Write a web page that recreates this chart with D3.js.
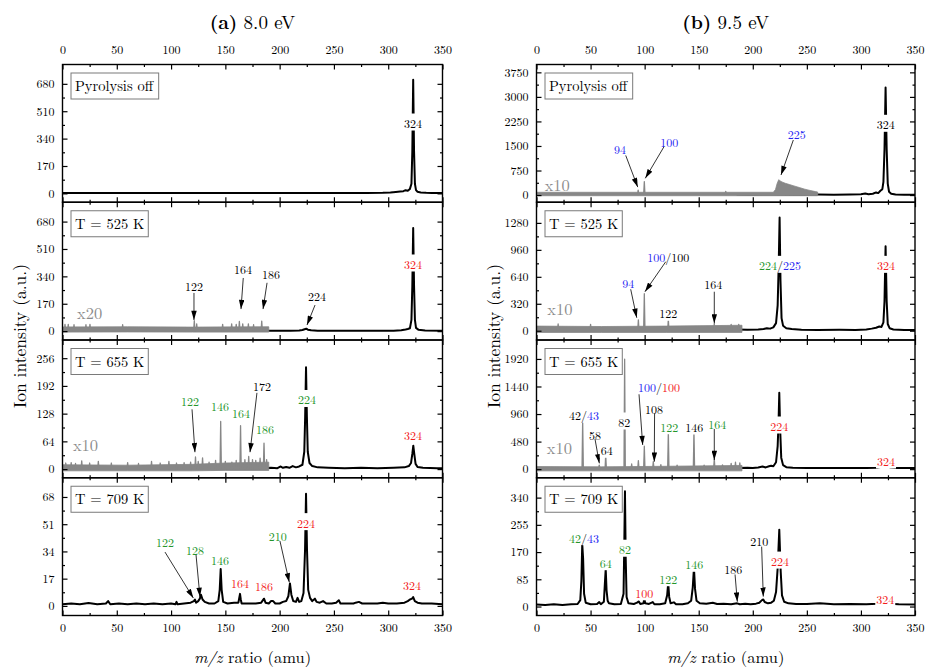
<!DOCTYPE html>
<html><head><meta charset="utf-8">
<script src="https://cdn.jsdelivr.net/npm/d3@7"></script>
<style>
body{margin:0;background:#fff}
svg{display:block}
text{font-family:"Latin Modern Roman","Liberation Serif",serif}
</style>
</head><body><svg id="c" width="928" height="668"></svg>
<script>
// ---------------- DATA ----------------
const columnTitles = [["(a)", " 8.0 eV"], ["(b)", " 9.5 eV"]];
const panelNames = ["Pyrolysis off", "T = 525 K", "T = 655 K", "T = 709 K"];
const mzTicks = [0, 50, 100, 150, 200, 250, 300, 350];
const yTicksA = [[0,170,340,510,680],[0,170,340,510,680],[0,64,128,192,256],[0,17,34,51,68]];
const yTicksB = [[0,750,1500,2250,3000,3750],[0,320,640,960,1280],[0,480,960,1440,1920],[0,85,170,255,340]];
const yDomA = [[-55,800],[-55,800],[-20,298],[-6,80]];
const yDomB = [[-220,3990],[-110,1525],[-150,2250],[-28,402]];

// black spectra [m/z, intensity]
const blackA = [
 [[0,3],[20,2],[40,3],[60,2],[80,3],[100,2],[120,3],[140,2],[160,3],[180,2],[200,3],[220,2],[240,3],[260,2],[280,3],[295,4],[302,6],[307,9],[311,12],[314,14],[316,20],[318,16],[320,28],[321.4,60],[322.2,260],[323,705],[323.8,260],[324.6,60],[325.6,20],[327,10],[330,6],[335,4],[340,3],[350,2]],
 [[185,2],[200,3],[210,2],[218,4],[221,7],[223,12],[224.5,15],[226,9],[229,5],[235,3],[250,2],[270,3],[290,2],[305,3],[312,6],[316,10],[318,13],[320,18],[321.4,70],[322.2,280],[323,640],[323.8,280],[324.6,70],[325.6,20],[328,8],[334,4],[350,2]],
 [[185,2],[192,3],[198,2],[201,6],[203,3],[206,5],[209,3],[212,7],[215,4],[218,6],[221,10],[222.7,40],[223.5,120],[224.3,235],[225.1,120],[225.9,40],[227.5,14],[230,7],[235,4],[245,3],[260,2],[275,3],[290,2],[305,3],[315,4],[319,7],[321,14],[322.2,35],[323.1,54],[324,35],[325.2,12],[327,5],[332,3],[345,2],[350,2]],
 [[0,1],[8,1.5],[16,1],[24,1.8],[32,1],[40,1.5],[42,3],[44,1],[52,1.5],[60,1],[68,1.5],[76,1],[84,1.5],[92,1],[100,1.5],[104,1],[105,2.5],[106,1],[112,1.5],[118,2],[121,3],[122,4],[123,2],[125,3],[126.5,4.5],[127.5,7],[129,4],[131,2.5],[135,1.5],[140,1.5],[143.5,3],[144.8,10],[145.7,23],[146.6,10],[148,2.5],[152,1.5],[158,2],[162,2],[162.8,5],[163.5,7.5],[164.2,4],[165,1.5],[172,1.5],[178,1.5],[183,2],[185.6,4.5],[187,2],[190,1.5],[192,3],[194,3],[196,1.5],[200,1.5],[203,2.5],[206,3],[208,6],[209.5,14],[210.8,7],[212.5,3],[215,2.5],[216.5,5],[218,2.5],[220,3],[222,8],[223.4,35],[224.3,70],[225.2,35],[226.3,10],[228,5],[230,3],[232.5,4.5],[234,2.5],[237,2],[240,3],[243,1.5],[248,1.5],[252,2],[254.5,3.5],[256,1.5],[262,1.5],[268,1.5],[270,2],[273,2.5],[276,1.5],[282,1.5],[290,1.5],[295,2],[300,1.5],[308,1.5],[315,2],[318,3],[320,4],[322,4.5],[323,5.5],[324.5,3],[327,2],[331,1.5],[340,1.5],[350,1]]
];
const blackB = [
 [[185,15],[200,12],[220,15],[240,12],[260,15],[275,12],[290,18],[300,25],[304,45],[307,25],[311,40],[314,80],[316,60],[318,130],[319.8,180],[320.8,400],[321.8,1400],[322.8,3290],[323.8,1400],[324.8,350],[326,100],[328,40],[332,20],[340,12],[350,10]],
 [[185,15],[195,12],[205,15],[210,20],[213,30],[216,25],[219,40],[221.5,90],[223,300],[224,800],[224.8,1343],[225.6,600],[226.6,150],[228,60],[231,30],[236,20],[245,12],[260,10],[280,12],[295,10],[305,15],[310,25],[314,35],[317,50],[319,45],[320.8,100],[321.8,350],[322.8,1004],[323.8,350],[324.8,80],[326.5,30],[330,15],[340,10],[350,10]],
 [[185,20],[195,25],[200,20],[205,30],[209,45],[212,30],[215,50],[217,60],[219,50],[221.5,120],[223,400],[223.8,800],[224.5,1332],[225.3,700],[226.3,200],[228,70],[231,35],[237,25],[250,20],[270,20],[290,22],[305,20],[315,25],[319,40],[321,70],[322.8,110],[324.5,60],[327,30],[333,20],[350,20]],
 [[0,6],[8,5],[16,7],[24,5],[32,7],[38,8],[40.5,20],[41.5,80],[42.3,195],[43.1,150],[44,40],[45.5,12],[50,7],[56,8],[58,14],[59.5,7],[62.3,15],[63.2,70],[64,117],[64.8,50],[65.8,18],[67,10],[72,7],[78,8],[80.5,40],[81.2,200],[81.8,360],[82.5,150],[83.3,30],[85,10],[90,8],[93,12],[94.5,16],[96,8],[99,10],[99.7,28],[100.5,10],[104,8],[107.5,14],[109,7],[114,7],[119,10],[120.8,35],[121.8,74],[122.7,30],[124,10],[127,13],[129,7],[135,7],[140,10],[143,18],[144.5,60],[145.6,121],[146.6,55],[148,18],[151,10],[157,9],[163,12],[167,8],[173,9],[180,7],[185.5,10],[188,7],[193,9],[198,7],[203,9],[206,12],[208.5,20],[209.7,22],[211,14],[214,10],[217,12],[219.5,18],[221.5,45],[223,120],[224.5,240],[225.8,110],[227,35],[229,15],[233,10],[240,8],[250,8],[262,10],[275,7],[290,8],[305,7],[315,9],[320,12],[323,15],[326,9],[335,7],[350,6]]
];

// magnified (grey) traces: noise band [m/z, low, high] and spikes [m/z, height]
const grayBandA = [
 null,
 [[0,-6,26],[60,-5,27],[120,-6,25],[190,-6,27]],
 [[0,-4,10],[60,-4,9],[120,-4,11],[150,-3,14],[190,-3,16]],
 null
];
const graySpikesA = [
 null,
 [[2.3,42],[5.3,42],[10.6,40],[21.6,40],[25.3,42],[55.4,40],[121.4,65],[123.6,45],[147.5,42],[155.8,45],[160,42],[162.9,60],[166,45],[171.2,45],[176,40],[183.5,62]],
 [[3,14],[8,15],[12,13],[17.7,19],[25,14],[33,18],[45,14],[60,15],[70,13],[82,18],[90,14],[98,18],[105,14],[112,15],[118,16],[122.5,28],[125,18],[129,26],[135,16],[141,20],[145.7,110],[150,18],[156,16],[160,20],[164,100],[168,22],[171.5,29],[175,22],[178,20],[182,25],[185.6,60],[188,22]],
 null
];
const grayBandB = [
 [[0,-20,85],[219,-20,85],[221,-20,170],[222.5,-20,350],[224,-20,470],[225,-20,440],[227,-20,400],[230,-20,360],[234,-20,320],[238,-20,280],[243,-20,230],[248,-20,180],[253,-20,140],[258,-20,105],[260,-20,90]],
 [[0,-20,55],[60,-20,50],[120,-20,55],[190,-20,65]],
 [[0,-30,45],[60,-30,40],[120,-30,50],[190,-30,65]],
 null
];
const graySpikesB = [
 [[94,150],[99.7,410],[175,110]],
 [[20,80],[50,75],[94.2,130],[99.7,440],[121.9,135],[164.4,85],[180,75],[187,75]],
 [[42.7,843],[58,70],[64,244],[81.5,1915],[88,90],[94.2,150],[99.7,400],[108,130],[115,80],[121.9,650],[130,70],[145.6,640],[155,70],[164.4,180],[172,75],[180,100],[184,120],[188,110]],
 null
];
const grayFactorA = [null, "x20", "x10", null];
const grayFactorB = ["x10", "x10", "x10", null];
const factorAtA = [null, [24.9,120], [21.2,57], null];
const factorAtB = [[19.2,338], [21.7,273], [21.1,391], null];

// peak labels: text parts [text, colour key], anchor [m/z, intensity], optional arrow
const labelsA = [
 [ {t:[["324","k"]],at:[322.8,443]} ],
 [ {t:[["122","k"]],at:[121.1,286],arrow:[[121.1,237],[121.1,69]]},
   {t:[["164","k"]],at:[166.3,394],arrow:[[166.5,330],[164.4,137]]},
   {t:[["186","k"]],at:[192,363],arrow:[[188.4,300],[184.7,137]]},
   {t:[["224","k"]],at:[234.4,224],arrow:[[232.6,162],[225.2,38]]},
   {t:[["324","r"]],at:[322.8,423]} ],
 [ {t:[["122","g"]],at:[117.4,159],arrow:[[119.3,138],[122,39]]},
   {t:[["146","g"]],at:[145,148]},
   {t:[["164","g"]],at:[164.4,132]},
   {t:[["172","k"]],at:[183.8,194],arrow:[[179.1,176],[172.7,39]]},
   {t:[["186","g"]],at:[186.5,95]},
   {t:[["224","g"]],at:[225.2,163]},
   {t:[["324","r"]],at:[322.8,80]} ],
 [ {t:[["122","g"]],at:[94.4,40.5],arrow:[[94.4,33.6],[120.5,4.9]]},
   {t:[["128","g"]],at:[122,35.3],arrow:[[123,31.8],[126.6,5.7]]},
   {t:[["146","g"]],at:[145,29.5]},
   {t:[["164","r"]],at:[163.5,15.1]},
   {t:[["186","r"]],at:[185.6,13]},
   {t:[["210","g"]],at:[198.2,44.3],arrow:[[200.3,40.5],[208.9,14.7]]},
   {t:[["224","r"]],at:[224.3,52.6]},
   {t:[["324","r"]],at:[321.9,13.5]} ]
];
const labelsB = [
 [ {t:[["94","b"]],at:[77.2,1429],arrow:[[82.5,1212],[93.6,243]]},
   {t:[["100","b"]],at:[122.8,1661],arrow:[[117.9,1478],[100.6,512]]},
   {t:[["225","b"]],at:[240.6,1887],arrow:[[237.5,1683],[226.1,613]]},
   {t:[["324","k"]],at:[322.9,2193]} ],
 [ {t:[["94","b"]],at:[84.9,575],arrow:[[87.1,492],[92.7,154]]},
   {t:[["100","b"],["/","k"],["100","k"]],at:[121.9,887],arrow:[[119.5,819],[100.3,463]]},
   {t:[["122","k"]],at:[121.9,219]},
   {t:[["164","k"]],at:[163.5,563],arrow:[[164.4,463],[164.4,88]]},
   {t:[["224","g"],["/","k"],["225","b"]],at:[225.2,788]},
   {t:[["324","r"]],at:[323.2,788]} ],
 [ {t:[["42","k"],["/","k"],["43","b"]],at:[43.9,956]},
   {t:[["58","k"]],at:[54.1,607],arrow:[[54.1,525],[58.1,101]]},
   {t:[["64","k"]],at:[64.9,346]},
   {t:[["82","k"]],at:[81.2,839]},
   {t:[["100","b"],["/","k"],["100","r"]],at:[113.3,1449],arrow:[[94.8,1304],[98.2,421]]},
   {t:[["108","k"]],at:[108.6,1071],arrow:[[109.2,973],[108.9,130]]},
   {t:[["122","g"]],at:[122.8,757]},
   {t:[["146","k"]],at:[145.9,752]},
   {t:[["164","g"]],at:[167.1,799],arrow:[[164.4,700],[164.4,160]]},
   {t:[["224","r"]],at:[224.5,769]},
   {t:[["324","r"]],at:[323.2,160]} ],
 [ {t:[["42","g"],["/","k"],["43","b"]],at:[43.9,218]},
   {t:[["64","g"]],at:[64,140]},
   {t:[["82","g"]],at:[81.8,182]},
   {t:[["100","r"]],at:[99.7,46]},
   {t:[["122","g"]],at:[121.9,90]},
   {t:[["146","g"]],at:[145.9,135]},
   {t:[["186","k"]],at:[182,119],arrow:[[183.6,100],[185.7,15]]},
   {t:[["210","k"]],at:[206,208],arrow:[[208.2,187],[209.7,31]]},
   {t:[["224","r"]],at:[225.2,145]},
   {t:[["324","r"]],at:[322.5,27.5]} ]
];

// ---------------- DRAW ----------------
const colours = {k:"#000000", r:"#f21b1b", g:"#23952a", b:"#2626f2"};
const grey = "#878787";
const svg = d3.select("#c");
const defs = svg.append("defs");
defs.append("marker").attr("id","ah").attr("viewBox","0 0 10 6")
  .attr("refX",10).attr("refY",3).attr("markerWidth",10).attr("markerHeight",5.5)
  .attr("markerUnits","userSpaceOnUse").attr("orient","auto")
  .append("path").attr("d","M0,0L10,3L0,6Z").attr("fill","#000");

const colRange = [[62.5,442.5],[536.5,915]];
const top0 = 64.5, ph = 137.75;
const cols = [
 {title:columnTitles[0], yTicks:yTicksA, yDom:yDomA, black:blackA, band:grayBandA, spikes:graySpikesA, factor:grayFactorA, factorAt:factorAtA, labels:labelsA},
 {title:columnTitles[1], yTicks:yTicksB, yDom:yDomB, black:blackB, band:grayBandB, spikes:graySpikesB, factor:grayFactorB, factorAt:factorAtB, labels:labelsB}
];
const mzMinor = mzTicks.slice(1).map((v,i)=>(v+mzTicks[i])/2);

function styleAxis(g, size){
  g.attr("font-family", null).attr("font-size", size);
  g.select(".domain").remove();
  g.selectAll("line").attr("stroke","#000").attr("stroke-width",1.2);
  g.selectAll("text").attr("fill","#000");
}

cols.forEach((col,c)=>{
  const x = d3.scaleLinear().domain([0,350]).range(colRange[c]);
  const cx = (colRange[c][0]+colRange[c][1])/2;
  // title
  const tt = svg.append("text").attr("x",cx).attr("y",29).attr("text-anchor","middle").attr("font-size",19);
  tt.append("tspan").attr("font-weight","bold").text(col.title[0]);
  tt.append("tspan").text(col.title[1]);
  // y label
  svg.append("text").attr("transform",`translate(${c===0?18:492},336) rotate(-90)`)
    .attr("text-anchor","middle").attr("dominant-baseline","central").attr("font-size",17.5)
    .text("Ion intensity (a.u.)");
  // x label
  const xl = svg.append("text").attr("x",cx).attr("y",663).attr("text-anchor","middle").attr("font-size",16.5);
  xl.append("tspan").attr("font-style","italic").text("m/z");
  xl.append("tspan").text(" ratio (amu)");

  for(let p=0;p<4;p++){
    const y0 = top0 + p*ph;
    const y = d3.scaleLinear().domain(col.yDom[p]).range([y0+ph, y0]);
    const g = svg.append("g");
    const cid = `clip-${c}-${p}`;
    defs.append("clipPath").attr("id",cid).append("rect")
      .attr("x",colRange[c][0]).attr("y",y0).attr("width",colRange[c][1]-colRange[c][0]).attr("height",ph);
    const plot = g.append("g").attr("clip-path",`url(#${cid})`);

    // black trace
    plot.append("path").datum(col.black[p])
      .attr("d", d3.line().x(d=>x(d[0])).y(d=>y(d[1])))
      .attr("fill","none").attr("stroke","#000").attr("stroke-width",2).attr("stroke-linejoin","round");

    // grey magnified trace
    if(col.band[p]){
      plot.append("path").datum(col.band[p])
        .attr("d", d3.area().x(d=>x(d[0])).y0(d=>y(d[1])).y1(d=>y(d[2])))
        .attr("fill",grey).attr("stroke",grey).attr("stroke-width",0.8);
    }
    if(col.spikes[p]){
      const sl = d3.line().x(d=>x(d[0])).y(d=>y(d[1]));
      plot.selectAll(null).data(col.spikes[p]).enter().append("path")
        .attr("d", d=>sl([[d[0]-0.6,0],[d[0],d[1]],[d[0]+0.6,0]]))
        .attr("fill",grey).attr("stroke",grey).attr("stroke-width",1.3).attr("stroke-linejoin","round");
    }
    if(col.factor[p]){
      plot.append("text").attr("x",x(col.factorAt[p][0])).attr("y",y(col.factorAt[p][1]))
        .attr("text-anchor","middle").attr("dominant-baseline","central")
        .attr("font-size",16.5).attr("fill","#8c8c8c").text(col.factor[p]);
    }

    // labels
    col.labels[p].forEach(L=>{
      const lg = g.append("g");
      const rect = lg.append("rect").attr("fill","#fff");
      const t = lg.append("text").attr("x",x(L.at[0])).attr("y",y(L.at[1]))
        .attr("text-anchor","middle").attr("dominant-baseline","central").attr("font-size",12);
      L.t.forEach(part=>t.append("tspan").attr("fill",colours[part[1]]).text(part[0]));
      const bb = t.node().getBBox();
      rect.attr("x",bb.x-1).attr("y",bb.y).attr("width",bb.width+2).attr("height",bb.height);
      if(L.arrow){
        g.append("line").attr("x1",x(L.arrow[0][0])).attr("y1",y(L.arrow[0][1]))
          .attr("x2",x(L.arrow[1][0])).attr("y2",y(L.arrow[1][1]))
          .attr("stroke","#000").attr("stroke-width",0.8).attr("marker-end","url(#ah)");
      }
    });

    // frame
    g.append("rect").attr("x",colRange[c][0]).attr("y",y0)
      .attr("width",colRange[c][1]-colRange[c][0]).attr("height",ph)
      .attr("fill","none").attr("stroke","#000").attr("stroke-width",1.4);

    // axes (inward ticks)
    const yt = col.yTicks[p];
    const yMinor = yt.slice(1).map((v,i)=>(v+yt[i])/2);
    g.append("g").attr("transform",`translate(${colRange[c][0]},0)`)
      .call(d3.axisLeft(y).tickValues(yt).tickSize(-5).tickPadding(8).tickFormat(d3.format("d")))
      .call(a=>styleAxis(a,12));
    g.append("g").attr("transform",`translate(${colRange[c][0]},0)`)
      .call(d3.axisLeft(y).tickValues(yMinor).tickSize(-2.5).tickFormat(""))
      .call(a=>styleAxis(a,12));
    g.append("g").attr("transform",`translate(${colRange[c][1]},0)`)
      .call(d3.axisRight(y).tickValues(yt).tickSize(-5).tickFormat(""))
      .call(a=>styleAxis(a,12));
    g.append("g").attr("transform",`translate(${colRange[c][1]},0)`)
      .call(d3.axisRight(y).tickValues(yMinor).tickSize(-2.5).tickFormat(""))
      .call(a=>styleAxis(a,12));
    g.append("g").attr("transform",`translate(0,${y0})`)
      .call(d3.axisTop(x).tickValues(mzTicks).tickSize(-5).tickPadding(11).tickFormat(p===0?d3.format("d"):""))
      .call(a=>styleAxis(a,12));
    g.append("g").attr("transform",`translate(0,${y0})`)
      .call(d3.axisTop(x).tickValues(mzMinor).tickSize(-2.5).tickFormat(""))
      .call(a=>styleAxis(a,12));
    g.append("g").attr("transform",`translate(0,${y0+ph})`)
      .call(d3.axisBottom(x).tickValues(mzTicks).tickSize(-5).tickPadding(8).tickFormat(p===3?d3.format("d"):""))
      .call(a=>styleAxis(a,12));
    g.append("g").attr("transform",`translate(0,${y0+ph})`)
      .call(d3.axisBottom(x).tickValues(mzMinor).tickSize(-2.5).tickFormat(""))
      .call(a=>styleAxis(a,12));

    // legend box
    const lg = g.append("g").attr("transform",`translate(${colRange[c][0]+8.5},${y0+8.5})`);
    const lr = lg.append("rect").attr("fill","#fff").attr("stroke","#7a7a7a").attr("stroke-width",1);
    const lt = lg.append("text").attr("x",4).attr("y",18).attr("font-size",14.5).text(panelNames[p]);
    const lb = lt.node().getBBox();
    lr.attr("width",lb.width+8).attr("height",26);
  }
});
</script>
</body></html>
